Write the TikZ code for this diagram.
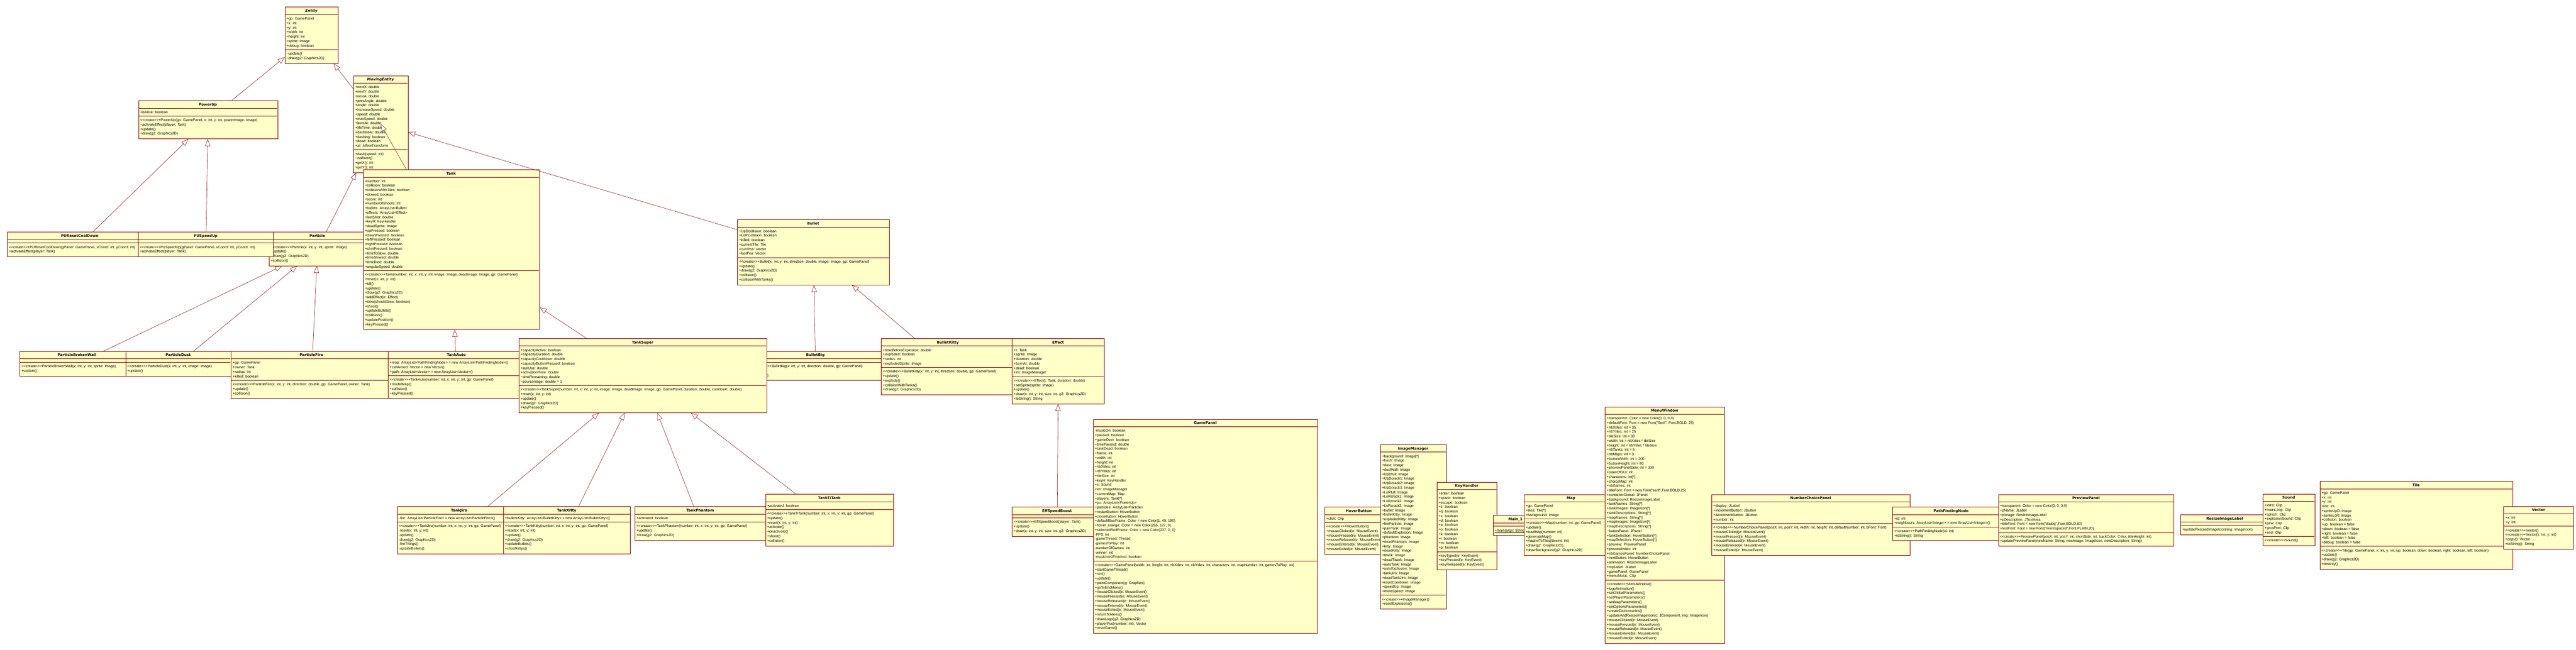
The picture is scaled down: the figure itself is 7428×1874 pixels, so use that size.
\documentclass[tikz,border=0pt]{standalone}
\usepackage{fontspec}
\newfontfamily\betu{Liberation Sans}
\newfontfamily\cimbetu{DejaVu Sans}
\usetikzlibrary{arrows.meta}
\usetikzlibrary{calc}

\definecolor{keret}{RGB}{128,0,0}
\definecolor{kitoltes}{RGB}{255,255,200}

\newcommand{\letrehoz}{<{}<create>{}>}
\newcommand{\tl}{\textasciitilde}
\newcommand{\qq}{\textquotedbl}

% #1 name, #2 x, #3 y, #4 width, #5 attribute lines, #6 method lines, #7 title, #8 attributes, #9 methods
\newcommand{\umldoboz}[9]{%
\pgfmathsetmacro{\attrmag}{13*#5+10}%
\pgfmathsetmacro{\metmag}{13*#6+13}%
\pgfmathsetmacro{\teljes}{22+\attrmag+\metmag}%
\node[osztaly, minimum width=#4, minimum height=\teljes, anchor=north west] (#1) at (#2,#3) {};
\begin{scope}
\clip (#2+1,#3+1) rectangle (#2+#4-1,#3+\teljes-1);
\draw[valaszto] (#2,#3+22) -- ++(#4,0);
\draw[valaszto] (#2,#3+22+\attrmag) -- ++(#4,0);
\node[cim] at (#2+#4/2,#3+15) {#7};
\node[szoveg] at (#2+5,#3+27) {\rule{0pt}{10pt}#8};
\node[szoveg] at (#2+5,#3+27+\attrmag) {\rule{0pt}{10pt}#9};
\end{scope}
}

\begin{document}
\begin{tikzpicture}[x=1pt,y=-1pt,
osztaly/.style={rectangle,draw=keret,fill=kitoltes,line width=1.2pt,inner sep=0pt},
valaszto/.style={draw=keret,line width=1.2pt},
cim/.style={anchor=base,inner sep=0pt,font=\cimbetu\bfseries\fontsize{10.4}{13}\selectfont},
szoveg/.style={anchor=north west,inner sep=0pt,align=left,font=\betu\fontsize{10.4}{13}\selectfont},
oroklodes/.style={draw=keret,line width=0.8pt,-{Triangle[length=20pt,width=15pt,fill=white,line width=0.8pt]}}]

\useasboundingbox (0,0) rectangle (7428,1874);
\fill[white] (0,0) rectangle (7428,1874);

\umldoboz{entity}{821}{20}{154}{7}{2}{\textit{Entity}}
{+gp: GamePanel\\+x: int\\+y: int\\+width: int\\+height: int\\+sprite: Image\\+debug: boolean}
{\textit{\tl update()}\\\textit{\tl draw(g2: Graphics2D)}}

\umldoboz{powerup}{399}{290}{401}{1}{4}{\textit{PowerUp}}
{+isAlive: boolean}
{\letrehoz+PowerUp(gp: GamePanel, x: int, y: int, powerImage: Image)\\\textit{\tl activateEffect(player: Tank)}\\+update()\\+draw(g2: Graphics2D)}

\umldoboz{movingentity}{1019}{218}{157}{14}{4}{\textit{MovingEntity}}
{+nextX: double\\+nextY: double\\+nextA: double\\+prevAngle: double\\+angle: double\\+increaseSpeed: double\\+speed: double\\+maxSpeed: double\\+bornAt: double\\+lifeTime: double\\+dashedAt: double\\+dashing: boolean\\+dead: boolean\\+at: AffineTransform}
{+dash(speed: int)\\\textit{\tl collision()}\\+getX(): int\\+getY(): int}

\umldoboz{particle}{776}{669}{278}{0}{4}{Particle}
{}
{\letrehoz+Particle(x: int, y: int, sprite: Image)\\+update()\\+draw(g2: Graphics2D)\\+collision()}

\umldoboz{puresetcooldown}{21}{669}{418}{0}{2}{PUResetCoolDown}
{}
{\letrehoz+PUResetCoolDown(gPanel: GamePanel, xCoord: int, yCoord: int)\\+activateEffect(player: Tank)}

\umldoboz{puspeedup}{398}{669}{390}{0}{2}{PUSpeedUp}
{}
{\letrehoz+PUSpeedUp(gPanel: GamePanel, xCoord: int, yCoord: int)\\+activateEffect(player: Tank)}

\umldoboz{tank}{1047}{489}{508}{20}{12}{Tank}
{+number: int\\+collision: boolean\\+collisionWithTiles: boolean\\+slowed: boolean\\+score: int\\+numberOfShoots: int\\+bullets: ArrayList<Bullet>\\+effects: ArrayList<Effect>\\+lastShot: double\\+keyH: KeyHandler\\+deadSprite: Image\\+upPressed: boolean\\+downPressed: boolean\\+leftPressed: boolean\\+rightPressed: boolean\\+shotPressed: boolean\\+timeToSlow: double\\+timeSlowed: double\\+timeDied: double\\+angularSpeed: double}
{\letrehoz+Tank(number: int, x: int, y: int, image: Image, deadImage: Image, gp: GamePanel)\\+reset(x: int, y: int)\\+kill()\\+update()\\+draw(g2: Graphics2D)\\+addEffect(e: Effect)\\+slow(shouldSlow: boolean)\\+shoot()\\+updateBullets()\\+collision()\\+updatePosition()\\+keyPressed()}

\umldoboz{bullet}{2126}{633}{438}{6}{5}{Bullet}
{+UpDcollision: boolean\\+LoRCollision: boolean\\+killed: boolean\\+currentTile: Tile\\+currPos: Vector\\+lastPos: Vector}
{\letrehoz+Bullet(x: int, y: int, direction: double, image: Image, gp: GamePanel)\\+update()\\+draw(g2: Graphics2D)\\+collision()\\+collisionWithTanks()}

\umldoboz{particlebrokenwall}{57}{1013}{330}{0}{2}{ParticleBrokenWall}
{}
{\letrehoz+ParticleBrokenWall(x: int, y: int, sprite: Image)\\+update()}

\umldoboz{particledust}{362}{1013}{303}{0}{2}{ParticleDust}
{}
{\letrehoz+ParticleDust(x: int, y: int, image: Image)\\+update()}

\umldoboz{particlefire}{666}{1013}{464}{4}{3}{ParticleFire}
{+gp: GamePanel\\+owner: Tank\\+radius: int\\+killed: boolean}
{\letrehoz+ParticleFire(x: int, y: int, direction: double, gp: GamePanel, owner: Tank)\\+update()\\+collision()}

\umldoboz{tankauto}{1119}{1013}{394}{3}{4}{TankAuto}
{+map: ArrayList<PathFindingNode> = new ArrayList<PathFindingNode>()\\+cellAimed: Vector = new Vector()\\+path: ArrayList<Vector> = new ArrayList<Vector>()}
{\letrehoz+TankAuto(number: int, x: int, y: int, gp: GamePanel)\\+modelMap()\\+collision()\\+keyPressed()}

\umldoboz{bulletbig}{2161}{1013}{380}{0}{3}{BulletBig}
{}
{\letrehoz+BulletBig(x: int, y: int, direction: double, gp: GamePanel)\\+update()\\+collision()}

\umldoboz{tanksuper}{1496}{976}{714}{8}{5}{TankSuper}
{+capacityActive: boolean\\+capacityDuration: double\\+capacityCooldown: double\\+capacityButtonPressed: boolean\\+lastUse: double\\+activationTime: double\\\tl timeRemaining: double\\\tl pourcentage: double = 1}
{\letrehoz+TankSuper(number: int, x: int, y: int, image: Image, deadImage: Image, gp: GamePanel, duration: double, cooldown: double)\\+reset(x: int, y: int)\\+update()\\+draw(g2: Graphics2D)\\+keyPressed()}

\umldoboz{bulletkitty}{2541}{976}{384}{4}{5}{BulletKitty}
{+timeBeforeExplosion: double\\+exploded: boolean\\+radius: int\\+explodedSprite: Image}
{\letrehoz+BulletKitty(x: int, y: int, direction: double, gp: GamePanel)\\+update()\\+explode()\\+collisionWithTanks()\\+draw(g2: Graphics2D)}

\umldoboz{effect}{2918}{976}{266}{6}{5}{Effect}
{+t: Tank\\+sprite: Image\\+duration: double\\+bornAt: double\\+dead: boolean\\+im: ImageManager}
{\letrehoz+Effect(t: Tank, duration: double)\\+setSprite(sprite: Image)\\+update()\\+draw(x: int, y: int, size: int, g2: Graphics2D)\\+toString(): String}

\umldoboz{tankjiro}{1145}{1461}{358}{1}{6}{TankJiro}
{-fire: ArrayList<ParticleFire> = new ArrayList<ParticleFire>()}
{\letrehoz+TankJiro(number: int, x: int, y: int, gp: GamePanel)\\-reset(x: int, y: int)\\-update()\\-draw(g2: Graphics2D)\\-fireThings()\\-updateBullets()}

\umldoboz{tankkitty}{1451}{1461}{366}{1}{6}{TankKitty}
{+bulletsKitty: ArrayList<BulletKitty> = new ArrayList<BulletKitty>()}
{\letrehoz+TankKitty(number: int, x: int, y: int, gp: GamePanel)\\+reset(x: int, y: int)\\+update()\\+draw(g2: Graphics2D)\\+updateBullets()\\+shootKittys()}

\umldoboz{tankphantom}{1830}{1461}{378}{1}{3}{TankPhantom}
{+activated: boolean}
{\letrehoz+TankPhantom(number: int, x: int, y: int, gp: GamePanel)\\+update()\\+draw(g2: Graphics2D)}

\umldoboz{tanktitank}{2207}{1425}{369}{1}{7}{TankTiTank}
{+activated: boolean}
{\letrehoz+TankTiTank(number: int, x: int, y: int, gp: GamePanel)\\+update()\\+reset(x: int, y: int)\\+activate()\\+deactivate()\\+shoot()\\+collision()}

\umldoboz{effspeedboost}{2918}{1462}{260}{0}{3}{EffSpeedBoost}
{}
{\letrehoz+EffSpeedBoost(player: Tank)\\+update()\\+draw(x: int, y: int, size: int, g2: Graphics2D)}

\umldoboz{gamepanel}{3152}{1209}{647}{29}{15}{GamePanel}
{-musicOn: boolean\\+paused: boolean\\+gameOver: boolean\\+timePaused: double\\+tankDead: boolean\\+frame: int\\+width: int\\+height: int\\+nbXtiles: int\\+nbYtiles: int\\+tileSize: int\\+keyH: KeyHandler\\+s: Sound\\+im: ImageManager\\+currentMap: Map\\+players: Tank[*]\\+pu: ArrayList<PowerUp>\\+particles: ArrayList<Particle>\\+restartButton: HoverButton\\+closeButton: HoverButton\\+defaultBlueFrame: Color = new Color(1, 49, 180)\\+hover\_orange: Color = new Color(255, 127, 0)\\+selectedRedFrame: Color = new Color(237, 0, 0)\\-FPS: int\\-gameThread: Thread\\-gamesToPlay: int\\-numberOfGames: int\\-winner: int\\-musicIntroFinished: boolean}
{\letrehoz+GamePanel(width: int, height: int, nbXtiles: int, nbYtiles: int, characters: int, mapNumber: int, gamesToPlay: int)\\+startGameThread()\\+run()\\+update()\\+paintComponent(g: Graphics)\\+goToEndMenu()\\+mouseClicked(e: MouseEvent)\\+mousePressed(e: MouseEvent)\\+mouseReleased(e: MouseEvent)\\+mouseEntered(e: MouseEvent)\\+mouseExited(e: MouseEvent)\\+returnToMenu()\\+drawLogo(g2: Graphics2D)\\+playerPos(number: int): Vector\\+resetGame()}

\umldoboz{hoverbutton}{3819}{1462}{198}{1}{6}{HoverButton}
{+click: Clip}
{\letrehoz+HoverButton()\\+mouseClicked(e: MouseEvent)\\+mousePressed(e: MouseEvent)\\+mouseReleased(e: MouseEvent)\\+mouseEntered(e: MouseEvent)\\+mouseExited(e: MouseEvent)}

\umldoboz{imagemanager}{3980}{1282}{190}{31}{2}{ImageManager}
{+background: Image[*]\\+bush: Image\\+dust: Image\\+dustWall: Image\\+UpDfull: Image\\+UpDcrack1: Image\\+UpDcrack2: Image\\+UpDcrack3: Image\\+LoRfull: Image\\+LoRcrack1: Image\\+LoRcrack2: Image\\+LoRcrack3: Image\\+bullet: Image\\+bulletKitty: Image\\+explodedKitty: Image\\+fireParticle: Image\\+painTank: Image\\+defaultExplosion: Image\\+phantom: Image\\+deadPhantom: Image\\+kitty: Image\\+deadKitty: Image\\+titank: Image\\+deadTitank: Image\\+autoTank: Image\\+autoExplosion: Image\\+tankJiro: Image\\+deadTankJiro: Image\\+resetCooldown: Image\\+speedUp: Image\\+moreSpeed: Image}
{\letrehoz+ImageManager()\\+resetExplosions()}

\umldoboz{keyhandler}{4143}{1390}{173}{13}{3}{KeyHandler}
{+enter: boolean\\+space: boolean\\+escape: boolean\\+z: boolean\\+q: boolean\\+s: boolean\\+d: boolean\\+a: boolean\\+o: boolean\\+k: boolean\\+l: boolean\\+m: boolean\\+p: boolean}
{+keyTyped(e: KeyEvent)\\+keyPressed(e: KeyEvent)\\+keyReleased(e: KeyEvent)}

\umldoboz{main1}{4305}{1486}{130}{0}{1}{Main\_1}
{}
{\underline{+main(args: String[*])}}

\umldoboz{map}{4394}{1426}{272}{3}{7}{Map}
{+gp: GamePanel\\+tiles: Tile[*]\\+background: Image}
{\letrehoz+Map(number: int, gp: GamePanel)\\+update()\\+loadMap(number: int)\\+generateMap()\\+mapIntToTiles(tilesInt: int)\\+draw(g2: Graphics2D)\\+drawBackground(g2: Graphics2D)}

\umldoboz{menuwindow}{4628}{1173}{344}{36}{13}{MenuWindow}
{+transparent: Color = new Color(0, 0, 0,0)\\+defaultFont: Font = new Font(\qq Serif\qq, Font.BOLD, 25)\\+nbXtiles: int = 35\\+nbYtiles: int = 25\\+tileSize: int = 33\\+width: int = nbXtiles * tileSize\\+height: int = nbYtiles * tileSize\\+nbTanks: int = 6\\+nbMaps: int = 3\\+buttonWidth: int = 200\\+buttonHeight: int = 80\\+previewPanelSide: int = 330\\+stateOfGUI: int\\+characters: int[*]\\+choiceMap: int\\+nbGames: int\\+titleFont: Font = new Font(\qq serif\qq,Font.BOLD,25)\\+containerGlobal: JPanel\\+background: ResizeImageLabel\\+tankNames: String[*]\\+tankImages: ImageIcon[*]\\+tankDescriptions: String[*]\\+mapNames: String[*]\\+mapImages: ImageIcon[*]\\+mapDescriptions: String[*]\\\tl buttonPanel: JPanel\\+tankSelection: HoverButton[*]\\+mapSelection: HoverButton[*]\\+preview: PreviewPanel\\+previewIndex: int\\+nbGamesPanel: NumberChoicePanel\\+nextButton: HoverButton\\+animation: ResizeImageLabel\\+topLabel: JLabel\\+gamePanel: GamePanel\\+menuMusic: Clip}
{\letrehoz+MenuWindow()\\+logoAnimation()\\+setGlobalParameters()\\+setPlayerParameters()\\+setMapParameters()\\+setOptionsParameters()\\+createDictionnaries()\\+updateAndResizeImageIcon(c: JComponent, img: ImageIcon)\\+mouseClicked(e: MouseEvent)\\+mousePressed(e: MouseEvent)\\+mouseReleased(e: MouseEvent)\\+mouseEntered(e: MouseEvent)\\+mouseExited(e: MouseEvent)}

\umldoboz{numberchoicepanel}{4935}{1426}{572}{4}{6}{NumberChoicePanel}
{+display: JLabel\\+incrementButton: JButton\\+decrementButton: JButton\\+number: int}
{\letrehoz+NumberChoicePanel(posX: int, posY: int, width: int, height: int, defaultNumber: int, bFont: Font)\\+mouseClicked(e: MouseEvent)\\+mousePressed(e: MouseEvent)\\+mouseReleased(e: MouseEvent)\\+mouseEntered(e: MouseEvent)\\+mouseExited(e: MouseEvent)}

\umldoboz{pathfindingnode}{5457}{1462}{338}{2}{2}{PathFindingNode}
{+id: int\\+neighbours: ArrayList<Integer> = new ArrayList<Integer>()}
{\letrehoz+PathFindingNode(id: int)\\+toString(): String}

\umldoboz{previewpanel}{5762}{1426}{506}{6}{2}{PreviewPanel}
{+transparent: Color = new Color(0, 0, 0,0)\\+pName: JLabel\\+pImage: ResizeImageLabel\\+pDescription: JTextArea\\+titleFont: Font = new Font(\qq dialog\qq,Font.BOLD,50)\\+textFont: Font = new Font(\qq monospaced\qq,Font.PLAIN,20)}
{\letrehoz+PreviewPanel(posX: int, posY: int, shortSide: int, backColor: Color, titleHeight: int)\\+updatePreviewPanel(newName: String, newImage: ImageIcon, newDescription: String)}

\umldoboz{resizeimagelabel}{6287}{1484}{256}{0}{1}{ResizeImageLabel}
{}
{+updateResizedImageIcon(img: ImageIcon)}

\umldoboz{sound}{6525}{1424}{149}{7}{1}{Sound}
{+intro: Clip\\+mainLoop: Clip\\+splash: Clip\\+explosionSound: Clip\\+pew: Clip\\+grosPew: Clip\\+end: Clip}
{\letrehoz+Sound()}

\umldoboz{tile}{6689}{1388}{556}{12}{4}{Tile}
{+gp: GamePanel\\+x: int\\+y: int\\+life: int\\+spriteUpD: Image\\+spriteLoR: Image\\+collision: boolean\\+up: boolean = false\\+down: boolean = false\\+right: boolean = false\\+left: boolean = false\\+debug: boolean = false}
{\letrehoz+Tile(gp: GamePanel, x: int, y: int, up: boolean, down: boolean, right: boolean, left: boolean)\\+update()\\+draw(g2: Graphics2D)\\+destroy()}

\umldoboz{vector}{7219}{1460}{202}{2}{4}{Vector}
{+x: int\\+y: int}
{\letrehoz+Vector()\\\letrehoz+Vector(x: int, y: int)\\+copy(): Vector\\+toString(): String}

\begin{scope}[oroklodes]
\draw (powerup)--(entity);
\draw (movingentity)--(entity);
\draw (puresetcooldown)--(powerup);
\draw (puspeedup)--(powerup);
\draw (particle)--(movingentity);
\draw (tank)--(movingentity.center);
\draw (bullet)--(movingentity);
\draw (particlebrokenwall)--(particle);
\draw (particledust)--(particle);
\draw (particlefire)--(particle);
\draw (tankauto)--(tank);
\draw (tanksuper)--(tank);
\draw (bulletbig)--(bullet);
\draw (bulletkitty)--(bullet);
\draw (effspeedboost)--(effect);
\draw (tankjiro)--(tanksuper);
\draw (tankkitty)--(tanksuper);
\draw (tankphantom)--(tanksuper);
\draw (tanktitank)--(tanksuper);
\end{scope}
\end{tikzpicture}
\end{document}
